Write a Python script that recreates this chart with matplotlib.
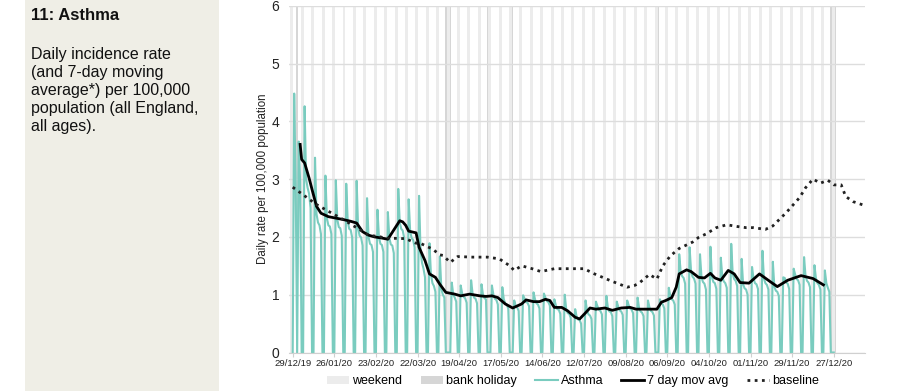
import numpy as np
import pandas as pd
import matplotlib
matplotlib.use('Agg')
import matplotlib.pyplot as plt
import matplotlib.dates as mdates
from matplotlib.patches import Patch, Rectangle
from matplotlib.lines import Line2D

plt.rcParams['font.family'] = ['Liberation Sans', 'DejaVu Sans']

# ---------------- data ----------------
start = '2019-12-29'   # Sunday, first day of the series

# daily rate Mon..Fri for each week (weekends are 0, bank holidays 0)
weeks = [
    [4.48, 2.90, 0.00, 3.65, 2.95],   # 30/12/19
    [4.26, 3.00, 2.85, 2.75, 2.50],
    [3.37, 2.40, 2.25, 2.20, 2.05],
    [3.06, 2.32, 2.20, 2.18, 2.05],
    [2.98, 2.30, 2.17, 2.15, 2.02],
    [2.92, 2.27, 2.14, 2.12, 1.99],   # 03/02/20
    [2.97, 2.15, 2.02, 1.99, 1.85],
    [2.67, 2.00, 1.88, 1.86, 1.74],
    [2.47, 2.00, 1.88, 1.86, 1.74],
    [2.43, 1.98, 1.87, 1.85, 1.72],   # 02/03/20
    [2.83, 2.25, 2.14, 2.11, 1.98],
    [2.65, 2.10, 1.98, 1.95, 1.82],
    [2.71, 1.75, 1.55, 1.45, 1.30],
    [1.89, 1.35, 1.20, 1.15, 1.05],
    [1.66, 1.10, 1.00, 0.95, 0.00],   # 06/04/20
    [0.00, 1.21, 1.00, 0.95, 0.88],
    [1.16, 1.02, 0.96, 0.94, 0.86],
    [1.25, 1.02, 0.95, 0.93, 0.85],
    [1.18, 1.00, 0.94, 0.92, 0.00],   # 04/05/20
    [1.16, 1.00, 0.93, 0.91, 0.83],
    [1.13, 0.92, 0.85, 0.83, 0.76],
    [0.00, 0.90, 0.80, 0.78, 0.72],
    [0.99, 0.93, 0.87, 0.86, 0.80],   # 01/06/20
    [1.04, 0.92, 0.85, 0.83, 0.76],
    [1.02, 0.95, 0.89, 0.87, 0.81],
    [0.92, 0.82, 0.75, 0.74, 0.67],
    [1.00, 0.75, 0.68, 0.67, 0.60],
    [0.75, 0.62, 0.57, 0.56, 0.50],   # 06/07/20
    [0.90, 0.72, 0.66, 0.64, 0.58],
    [0.88, 0.80, 0.74, 0.72, 0.66],
    [0.98, 0.78, 0.71, 0.70, 0.63],
    [0.88, 0.79, 0.73, 0.71, 0.65],   # 03/08/20
    [0.90, 0.82, 0.76, 0.74, 0.68],
    [0.95, 0.77, 0.71, 0.69, 0.63],
    [0.90, 0.78, 0.72, 0.70, 0.64],
    [0.00, 0.92, 0.85, 0.83, 0.76],   # 31/08/20
    [1.12, 0.98, 0.92, 0.90, 0.83],
    [1.70, 1.40, 1.32, 1.29, 1.19],
    [1.82, 1.40, 1.31, 1.28, 1.19],
    [1.70, 1.30, 1.22, 1.19, 1.09],
    [1.83, 1.30, 1.22, 1.20, 1.10],   # 05/10/20
    [1.64, 1.31, 1.23, 1.20, 1.12],
    [1.88, 1.36, 1.27, 1.24, 1.15],
    [1.62, 1.18, 1.11, 1.09, 1.00],
    [1.48, 1.28, 1.20, 1.18, 1.10],   # 02/11/20
    [1.76, 1.28, 1.20, 1.17, 1.09],
    [1.57, 1.14, 1.07, 1.05, 0.98],
    [1.30, 1.29, 1.21, 1.19, 1.10],
    [1.45, 1.35, 1.27, 1.25, 1.17],   # 30/11/20
    [1.65, 1.32, 1.24, 1.21, 1.13],
    [1.51, 1.28, 1.20, 1.17, 1.09],
    [1.42, 1.20, 1.12, 1.05, 0.00],   # 21/12/20
]

mavg_dates = ['2020-01-03', '2020-01-04', '2020-01-06', '2020-01-09', '2020-01-11',
              '2020-01-14', '2020-01-17', '2020-01-22', '2020-01-26', '2020-02-01',
              '2020-02-06', '2020-02-10', '2020-02-14', '2020-02-18', '2020-02-22',
              '2020-02-27', '2020-03-02', '2020-03-06', '2020-03-10', '2020-03-12',
              '2020-03-14', '2020-03-16', '2020-03-21', '2020-03-23', '2020-03-27',
              '2020-03-30', '2020-04-03', '2020-04-06', '2020-04-10', '2020-04-16',
              '2020-04-20', '2020-04-26', '2020-05-03', '2020-05-07', '2020-05-11',
              '2020-05-15', '2020-05-20', '2020-05-25', '2020-05-31', '2020-06-03',
              '2020-06-08', '2020-06-12', '2020-06-16', '2020-06-19', '2020-06-22',
              '2020-06-27', '2020-07-01', '2020-07-06', '2020-07-09', '2020-07-12',
              '2020-07-16', '2020-07-20', '2020-07-26', '2020-07-31', '2020-08-06',
              '2020-08-12', '2020-08-16', '2020-08-25', '2020-08-30', '2020-09-02',
              '2020-09-05', '2020-09-09', '2020-09-12', '2020-09-14', '2020-09-19',
              '2020-09-22', '2020-09-27', '2020-10-01', '2020-10-05', '2020-10-08',
              '2020-10-12', '2020-10-17', '2020-10-21', '2020-10-25', '2020-10-31',
              '2020-11-07', '2020-11-14', '2020-11-19', '2020-11-26', '2020-12-05',
              '2020-12-13', '2020-12-20']
mavg_values = [3.60, 3.34, 3.28, 3.02, 2.82,
               2.53, 2.41, 2.35, 2.33, 2.30,
               2.27, 2.24, 2.09, 2.03, 2.00,
               1.98, 1.96, 2.12, 2.28, 2.26,
               2.20, 2.10, 2.07, 1.82, 1.59,
               1.36, 1.30, 1.18, 1.04, 1.01,
               0.98, 1.01, 0.98, 0.97, 0.98,
               0.95, 0.84, 0.77, 0.84, 0.91,
               0.88, 0.88, 0.92, 0.90, 0.78,
               0.78, 0.72, 0.61, 0.58, 0.66,
               0.77, 0.75, 0.77, 0.73, 0.77,
               0.78, 0.75, 0.75, 0.75, 0.87,
               0.90, 0.95, 1.13, 1.36, 1.43,
               1.40, 1.30, 1.29, 1.37, 1.29,
               1.25, 1.42, 1.36, 1.21, 1.20,
               1.36, 1.23, 1.14, 1.25, 1.33,
               1.28, 1.17]

base_dates = ['2019-12-29', '2020-01-14', '2020-02-03', '2020-02-18', '2020-02-26',
              '2020-02-29', '2020-03-14', '2020-03-21', '2020-03-23', '2020-04-01',
              '2020-04-06', '2020-04-08', '2020-04-13', '2020-04-18', '2020-04-28',
              '2020-05-08', '2020-05-16', '2020-05-23', '2020-05-26', '2020-05-31',
              '2020-06-07', '2020-06-13', '2020-06-22', '2020-07-01', '2020-07-12',
              '2020-07-19', '2020-07-30', '2020-08-10', '2020-08-15', '2020-08-18',
              '2020-08-25', '2020-08-30', '2020-09-03', '2020-09-08', '2020-09-14',
              '2020-09-23', '2020-09-27', '2020-10-02', '2020-10-09', '2020-10-16',
              '2020-10-23', '2020-10-29', '2020-11-03', '2020-11-11', '2020-11-16',
              '2020-11-25', '2020-12-04', '2020-12-08', '2020-12-13', '2020-12-18',
              '2020-12-23', '2020-12-27', '2021-01-01', '2021-01-04', '2021-01-09',
              '2021-01-16']
base_values = [2.86, 2.56, 2.27, 2.03, 2.00,
               1.98, 1.97, 1.89, 1.90, 1.79,
               1.69, 1.68, 1.56, 1.66, 1.65,
               1.65, 1.62, 1.50, 1.42, 1.50,
               1.45, 1.40, 1.45, 1.45, 1.45,
               1.36, 1.24, 1.13, 1.16, 1.20,
               1.35, 1.27, 1.50, 1.67, 1.80,
               1.91, 1.99, 2.05, 2.16, 2.21,
               2.18, 2.16, 2.16, 2.13, 2.19,
               2.42, 2.68, 2.85, 3.00, 2.93,
               2.98, 2.90, 2.90, 2.70, 2.61,
               2.55]

bank_holidays = ['2020-01-01', '2020-04-10', '2020-04-13', '2020-05-08',
                 '2020-05-25', '2020-08-31', '2020-12-25', '2020-12-28']

tick_dates = ['2019-12-29', '2020-01-26', '2020-02-23', '2020-03-22', '2020-04-19',
              '2020-05-17', '2020-06-14', '2020-07-12', '2020-08-09', '2020-09-06',
              '2020-10-04', '2020-11-01', '2020-11-29', '2020-12-27']

# ---------------- build daily series ----------------
daily = [0.0]
for w in weeks:
    daily += w + [0.0, 0.0]
days = pd.date_range(start, periods=len(daily), freq='D')

teal = '#7accbf'
wk_col = '#ececec'
bh_col = '#d6d6d6'

fig = plt.figure(figsize=(9.12, 3.91), dpi=100)
fig.patches.append(Rectangle((25 / 912, 0), 194 / 912, 1, transform=fig.transFigure,
                             facecolor='#efeee6', edgecolor='none', zorder=0))
fig.text(31 / 912, 1 - 15 / 391, '11: Asthma', fontsize=12, fontweight='bold',
         va='center', ha='left', color='#111111')
fig.text(31 / 912, 1 - 47 / 391,
         'Daily incidence rate\n(and 7-day moving\naverage*) per 100,000\npopulation (all England,\nall ages).',
         fontsize=11.5, va='top', ha='left', linespacing=1.25, color='#111111')

ax = fig.add_axes([289 / 912, (391 - 352.5) / 391, (865 - 289) / 912, (352.5 - 5.7) / 391])

half = pd.Timedelta(hours=12)
one = pd.Timedelta(days=1)
for d in pd.date_range('2019-12-28', '2020-12-26', freq='7D'):
    ax.axvspan(d - half, d + one + half, color=wk_col, lw=0, zorder=0.2)
for b in pd.to_datetime(bank_holidays):
    ax.axvspan(b - half, b + half, color=bh_col, lw=0, zorder=0.3)

ax.plot(days, daily, color=teal, lw=1.5, zorder=2)
ax.plot(pd.to_datetime(mavg_dates), mavg_values, color='black', lw=2, zorder=3)
ax.plot(pd.to_datetime(base_dates), base_values, color='#222222', lw=2,
        linestyle=(0, (1, 1.6)), zorder=3)

ax.set_ylim(0, 6)
ax.set_yticks(range(0, 7))
ax.set_xlim(pd.Timestamp(start) - pd.Timedelta(days=2.5), pd.Timestamp('2021-01-17'))
ax.set_xticks(pd.to_datetime(tick_dates))
ax.xaxis.set_major_formatter(mdates.DateFormatter('%d/%m/%y'))

ax.set_axisbelow(True)
ax.grid(axis='y', color='#dddddd', lw=1)
for s in ['top', 'right', 'left']:
    ax.spines[s].set_visible(False)
ax.spines['bottom'].set_color('#d0d0d0')
ax.tick_params(axis='y', length=0, labelsize=10, pad=7, labelcolor='#222222')
ax.tick_params(axis='x', length=3, color='#d0d0d0', labelsize=6.8, pad=2, labelcolor='#222222')
ax.set_ylabel('Daily rate per 100,000 population', fontsize=8.3, labelpad=2, color='#222222')

handles = [Patch(facecolor=wk_col, edgecolor='none'),
           Patch(facecolor=bh_col, edgecolor='none'),
           Line2D([], [], color=teal, lw=1.5),
           Line2D([], [], color='black', lw=2),
           Line2D([], [], color='#222222', lw=2, linestyle=(0, (1, 1.6)))]
labels = ['weekend', 'bank holiday', 'Asthma', '7 day mov avg', 'baseline']
fig.legend(handles, labels, loc='center', bbox_to_anchor=(573 / 912, 1 - 381 / 391),
           ncol=5, frameon=False, fontsize=9, handlelength=1.8, handleheight=0.6,
           handletextpad=0.25, columnspacing=1.45)

fig.savefig('out.png', dpi=100)
